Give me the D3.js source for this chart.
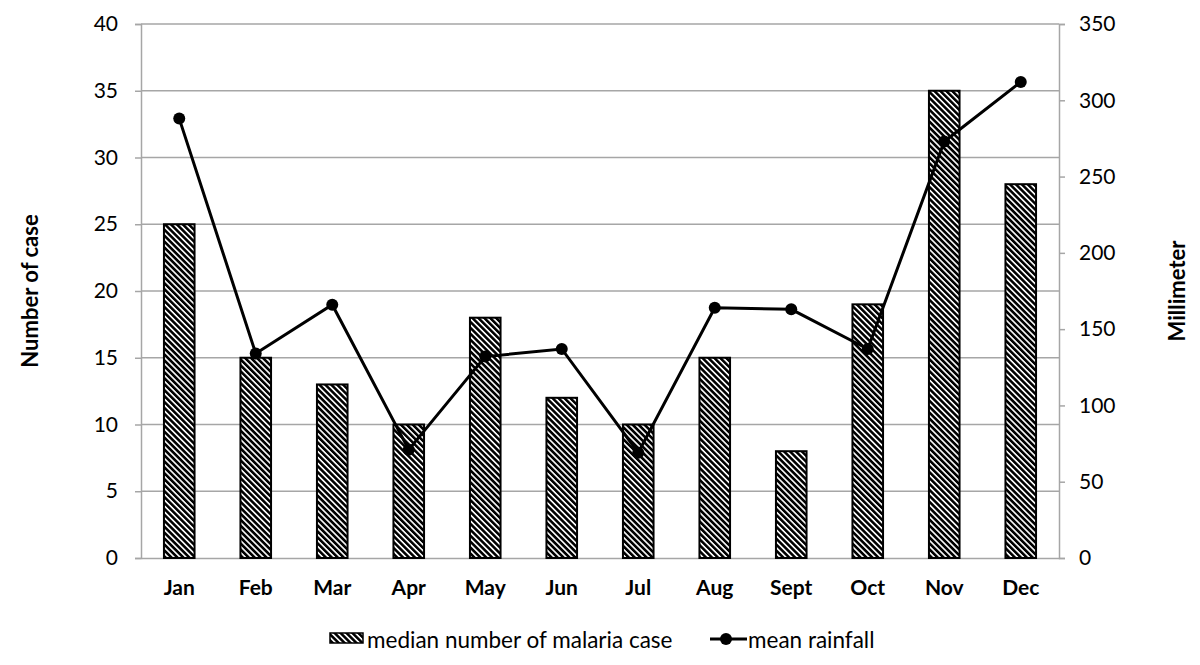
<!DOCTYPE html>
<html>
<head>
<meta charset="utf-8">
<script src="https://cdnjs.cloudflare.com/ajax/libs/d3/7.8.5/d3.min.js"></script>
<style>
  body { margin: 0; background: #fff; }
  svg text { font-family: Lato, "Open Sans", sans-serif; fill: #000; }
</style>
</head>
<body>
<svg id="chart"></svg>
<script>
const months = ['Jan', 'Feb', 'Mar', 'Apr', 'May', 'Jun', 'Jul', 'Aug', 'Sept', 'Oct', 'Nov', 'Dec'];
const medianCases = [25, 15, 13, 10, 18, 12, 10, 15, 8, 19, 35, 28];
const meanRainfall = [288, 134, 166, 71, 132, 137, 69, 164, 163, 137, 273, 312];
const leftTicks = [0, 5, 10, 15, 20, 25, 30, 35, 40];
const rightTicks = [0, 50, 100, 150, 200, 250, 300, 350];

const width = 1200, height = 665;
const margin = { top: 24, right: 141, bottom: 107, left: 141 };
const innerW = width - margin.left - margin.right;
const innerH = height - margin.top - margin.bottom;

const svg = d3.select('#chart').attr('width', width).attr('height', height);

// hatch pattern
const defs = svg.append('defs');
const pat = defs.append('pattern')
  .attr('id', 'hatch')
  .attr('patternUnits', 'userSpaceOnUse')
  .attr('width', 4.2)
  .attr('height', 4.2)
  .attr('patternTransform', 'rotate(-45)');
pat.append('rect').attr('width', 4.2).attr('height', 4.2).attr('fill', '#fff');
pat.append('rect').attr('width', 2.6).attr('height', 4.2).attr('fill', '#000');

const g = svg.append('g').attr('transform', `translate(${margin.left},${margin.top})`);

const x = d3.scaleBand().domain(months).range([0, innerW]).paddingInner(0.6).paddingOuter(0.3);
const yL = d3.scaleLinear().domain([0, 40]).range([innerH, 0]);
const yR = d3.scaleLinear().domain([0, 350]).range([innerH, 0]);

// gridlines
g.selectAll('.grid').data(leftTicks.filter(d => d > 0)).enter()
  .append('line')
  .attr('x1', 0).attr('x2', innerW)
  .attr('y1', d => yL(d)).attr('y2', d => yL(d))
  .attr('stroke', '#a6a6a6').attr('stroke-width', 1.5);

// left axis
const axL = g.append('g').call(d3.axisLeft(yL).tickValues(leftTicks).tickSize(6).tickPadding(17));
axL.select('.domain').attr('stroke', '#a6a6a6').attr('stroke-width', 1.5);
axL.selectAll('.tick line').attr('stroke', '#a6a6a6').attr('stroke-width', 1.5);
axL.selectAll('text').attr('font-size', 21).style('font-family', 'Lato, sans-serif');

// right axis
const axR = g.append('g').attr('transform', `translate(${innerW},0)`)
  .call(d3.axisRight(yR).tickValues(rightTicks).tickSize(6).tickPadding(14));
axR.select('.domain').attr('stroke', '#a6a6a6').attr('stroke-width', 1.5);
axR.selectAll('.tick line').attr('stroke', '#a6a6a6').attr('stroke-width', 1.5);
axR.selectAll('text').attr('font-size', 21).style('font-family', 'Lato, sans-serif');

// bottom axis
const axB = g.append('g').attr('transform', `translate(0,${innerH})`)
  .call(d3.axisBottom(x).tickSize(0).tickPadding(22));
axB.select('.domain').attr('stroke', '#a6a6a6').attr('stroke-width', 1.5);
axB.selectAll('text').attr('font-size', 21).attr('font-weight', 'bold').style('font-family', 'Lato, sans-serif');

// bars
g.selectAll('.bar').data(medianCases).enter()
  .append('rect')
  .attr('x', (d, i) => x(months[i]))
  .attr('y', d => yL(d))
  .attr('width', x.bandwidth())
  .attr('height', d => innerH - yL(d))
  .attr('fill', 'url(#hatch)')
  .attr('stroke', '#000').attr('stroke-width', 2);

// rainfall line
const line = d3.line()
  .x((d, i) => x(months[i]) + x.bandwidth() / 2)
  .y(d => yR(d));
g.append('path').datum(meanRainfall)
  .attr('d', line)
  .attr('fill', 'none').attr('stroke', '#000').attr('stroke-width', 3);
g.selectAll('.pt').data(meanRainfall).enter()
  .append('circle')
  .attr('cx', (d, i) => x(months[i]) + x.bandwidth() / 2)
  .attr('cy', d => yR(d))
  .attr('r', 6).attr('fill', '#000');

// axis titles
svg.append('text')
  .attr('transform', `translate(38,${margin.top + innerH / 2}) rotate(-90)`)
  .attr('text-anchor', 'middle')
  .attr('font-size', 22).attr('font-weight', 'bold')
  .text('Number of case');
svg.append('text')
  .attr('transform', `translate(1185,${margin.top + innerH / 2}) rotate(-90)`)
  .attr('text-anchor', 'middle')
  .attr('font-size', 22).attr('font-weight', 'bold')
  .text('Millimeter');

// legend
const leg = svg.append('g').attr('transform', 'translate(330,648)');
leg.append('rect').attr('x', 0).attr('y', -15).attr('width', 33).attr('height', 10)
  .attr('fill', 'url(#hatch)').attr('stroke', '#000').attr('stroke-width', 1.5);
leg.append('text').attr('x', 37).attr('y', 0).attr('font-size', 22.5).text('median number of malaria case');
leg.append('line').attr('x1', 380).attr('x2', 417).attr('y1', -9).attr('y2', -9)
  .attr('stroke', '#000').attr('stroke-width', 3);
leg.append('circle').attr('cx', 396).attr('cy', -9).attr('r', 6).attr('fill', '#000');
leg.append('text').attr('x', 418).attr('y', 0).attr('font-size', 22.5).text('mean rainfall');
</script>
</body>
</html>
